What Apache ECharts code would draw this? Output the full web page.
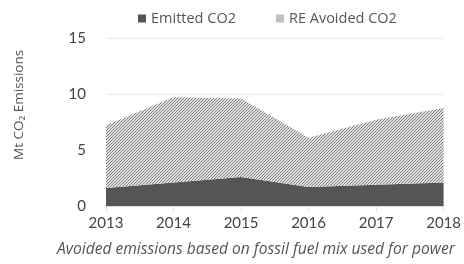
<!DOCTYPE html>
<html>
<head>
<meta charset="utf-8">
<script src="https://cdn.jsdelivr.net/npm/echarts@6/dist/echarts.min.js"></script>
<style>
html,body{margin:0;padding:0;background:#fff;}
#main{width:464px;height:264px;}
</style>
</head>
<body>
<div id="main"></div>
<script>
var years = ['2013','2014','2015','2016','2017','2018'];
var emitted = [1.6, 2.1, 2.6, 1.7, 1.9, 2.1];
var avoided = [5.6, 7.6, 7.0, 4.4, 5.8, 6.65];

// hatch pattern for the avoided area
function hatch() {
    var c = document.createElement('canvas');
    c.width = 3; c.height = 3;
    var ctx = c.getContext('2d');
    ctx.fillStyle = '#e0e0e0';
    ctx.fillRect(0, 0, 3, 3);
    ctx.fillStyle = '#808080';
    for (var i = 0; i < 3; i++) {
        ctx.fillRect(i, 2 - i, 1, 1);
    }
    return c;
}
var pat = {image: hatch(), repeat: 'repeat'};

var chart = echarts.init(document.getElementById('main'));
var font = 'Lato';
chart.setOption({
    animation: false,
    textStyle: {fontFamily: font},
    legend: {
        top: 6,
        left: 133,
        itemGap: 40,
        itemWidth: 8,
        itemHeight: 8,
        textStyle: {fontSize: 14.5, color: '#555', fontFamily: 'Open Sans'},
        data: [
            {name: 'Emitted CO2', icon: 'rect'},
            {name: 'RE Avoided CO2', icon: 'rect'}
        ]
    },
    grid: {left: 106, right: 18, top: 38, bottom: 58},
    xAxis: {
        type: 'category',
        boundaryGap: false,
        data: years,
        axisLine: {lineStyle: {color: '#ddd'}},
        axisTick: {show: true, lineStyle: {color: '#ddd'}},
        axisLabel: {fontSize: 15, color: '#444', margin: 10, fontFamily: font}
    },
    yAxis: {
        type: 'value',
        min: 0, max: 15, interval: 5,
        axisLabel: {fontSize: 15, color: '#444', margin: 20, fontFamily: font},
        splitLine: {lineStyle: {color: '#e8e8e8'}}
    },
    graphic: [{
        type: 'text',
        x: 12,
        y: 160,
        rotation: Math.PI / 2,
        style: {
            text: 'Mt CO\u2082 Emissions',
            fontSize: 13.5,
            fill: '#555',
            fontFamily: 'Open Sans'
        }
    }, {
        type: 'text',
        left: 57,
        top: 242,
        style: {
            text: 'Avoided emissions based on fossil fuel mix used for power',
            fontSize: 15.6,
            fontStyle: 'italic',
            fill: '#555',
            fontFamily: 'Open Sans'
        }
    }],
    series: [
        {
            name: 'Emitted CO2',
            type: 'line',
            stack: 'co2',
            symbol: 'none',
            lineStyle: {width: 0},
            itemStyle: {color: '#555'},
            areaStyle: {color: '#555', opacity: 1},
            data: emitted
        },
        {
            name: 'RE Avoided CO2',
            type: 'line',
            stack: 'co2',
            symbol: 'none',
            lineStyle: {width: 0},
            itemStyle: {color: pat},
            areaStyle: {color: pat, opacity: 1},
            data: avoided
        }
    ]
});
</script>
</body>
</html>
